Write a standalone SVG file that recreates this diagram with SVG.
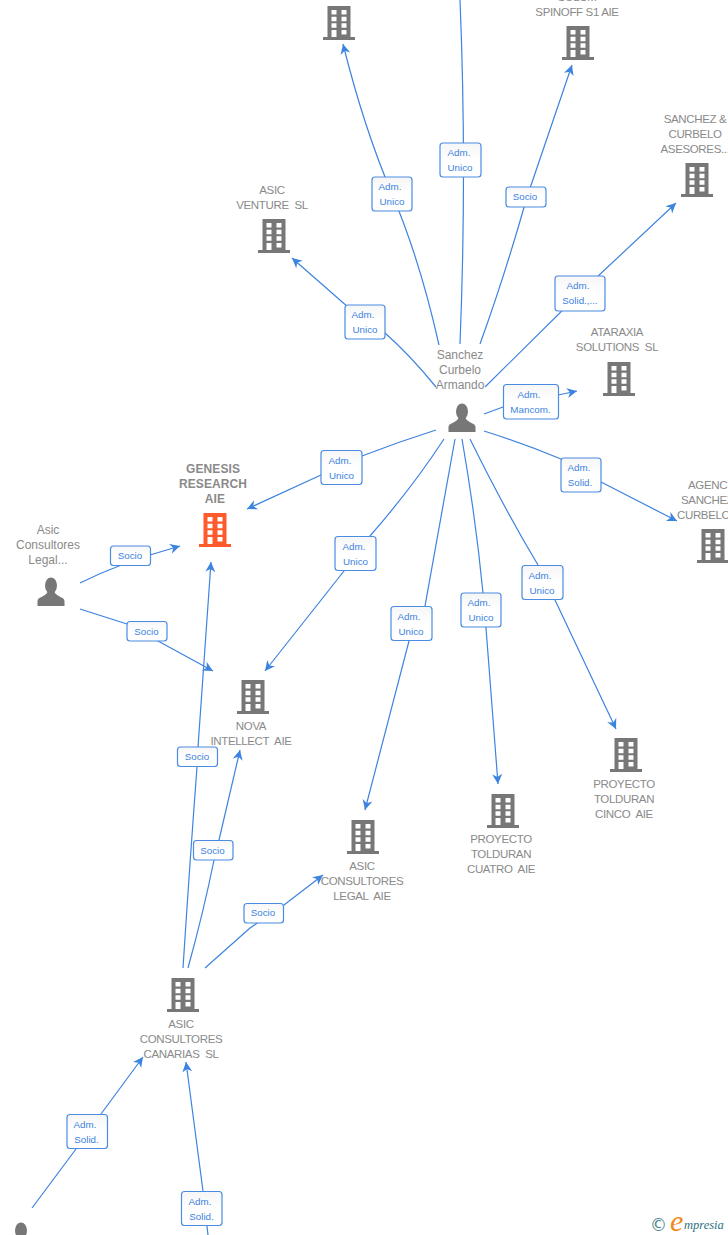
<svg xmlns="http://www.w3.org/2000/svg" width="728" height="1235" viewBox="0 0 728 1235">
<style>
.n{font-family:"Liberation Sans",Arial,sans-serif;font-size:11.5px;letter-spacing:-.35px;fill:#8a8a8a;text-anchor:middle;white-space:pre}
.m{font-size:12px;letter-spacing:0}
.s{text-anchor:start}
.g{font-weight:bold;font-size:12px;letter-spacing:.1px}
.c{fill:none;stroke:#3d83e0;stroke-width:1.2;marker-end:url(#a)}
.b{fill:url(#w);stroke:#4a8ce2;stroke-width:1.2}
.l{font-family:"Liberation Sans",Arial,sans-serif;font-size:9.8px;fill:#3d83e0;text-anchor:middle}
</style>
<defs>
<linearGradient id="w" x1="0" y1="0" x2="0" y2="1"><stop offset="0" stop-color="#f6f6f6"/><stop offset=".5" stop-color="#fff"/></linearGradient>
<marker id="a" markerUnits="userSpaceOnUse" markerWidth="12" markerHeight="12" refX="10" refY="5.500" orient="auto"><path d="M10,5.500 L0,0.500 L3,5.500 L0,10.500Z" fill="#3d83e0"/></marker>
<g id="bld"><path d="M-11.500,0H11.500V31H16V34H-16V31H-11.500Z M-7.500,4V8.500H-2.500V4Z M2.500,4V8.500H7.500V4Z M-7.500,10.700V15.200H-2.500V10.700Z M2.500,10.700V15.200H7.500V10.700Z M-7.500,17.300V21.800H-2.500V17.300Z M2.500,17.300V21.800H7.500V17.300Z M-7.500,24V31H-2.500V24Z M2.500,24V28.500H7.500V24Z" fill-rule="evenodd"/></g>
<g id="per"><ellipse cx="0" cy="7.500" rx="6" ry="8"/><path d="M-13.500,28V23C-13.500,19 -6,19 -3.500,14H3.500C6,19 13.500,19 13.500,23V28Z"/></g>
</defs>
<g id="connectors">
<path class="c" d="M439,345Q420,260 392,194T343,44"/>
<path class="c" d="M460,344Q467,170 460,0" style="marker-end:none"/>
<path class="c" d="M480,344Q505,275 527,197L572,65"/>
<path class="c" d="M485,387L580,293L676,203"/>
<path class="c" d="M436,387Q410,355 385,333L365,322L292,258"/>
<path class="c" d="M484,414L503,407M558,395L577,391"/>
<path class="c" d="M484,431Q525,444 561,459L601,482L677,521"/>
<path class="c" d="M436,430Q398,442 362,456L321,475L247,509"/>
<path class="c" d="M444,439Q412,488 370,536L344,571L265,671"/>
<path class="c" d="M455,439L425,606L409,641L365,810"/>
<path class="c" d="M462,439Q476,520 483,593L486,628L498,784"/>
<path class="c" d="M470,439Q505,510 538,565L555,600L616,729"/>
<path class="c" d="M80,583Q100,573 119,566L150,555L180,546"/>
<path class="c" d="M80,609L127,624L158,641L213,671"/>
<path class="c" d="M183,968Q190,860 197,767L198,747L211,562"/>
<path class="c" d="M188,968Q204,910 214,860L219,840L240,750"/>
<path class="c" d="M205,968L250,928L284,905L323,875"/>
<path class="c" d="M32,1208L76,1149L101,1114L143,1057"/>
<path class="c" d="M208,1235L203,1191L186,1062"/>
</g>
<g id="n1" fill="#777"><use href="#bld" x="339" y="6"/></g>
<g id="n2" fill="#777"><text class="n" x="577" y="1">SOLUM</text><text class="n" x="577" y="16">SPINOFF S1 AIE</text><use href="#bld" x="578" y="26"/></g>
<g id="n3" fill="#777"><text class="n" x="695" y="123">SANCHEZ &amp;</text><text class="n" x="695" y="138">CURBELO</text><text class="n" x="695" y="153">ASESORES...</text><use href="#bld" x="697" y="163"/></g>
<g id="n4" fill="#777"><text class="n" x="272" y="194">ASIC</text><text class="n" x="272" y="209">VENTURE  SL</text><use href="#bld" x="274" y="219"/></g>
<g id="n5" fill="#777"><text class="n" x="617" y="336">ATARAXIA</text><text class="n" x="617" y="351">SOLUTIONS  SL</text><use href="#bld" x="619" y="362"/></g>
<g id="n6" fill="#777"><text class="n s" x="688" y="489">AGENCIA</text><text class="n s" x="681" y="504">SANCHEZ</text><text class="n s" x="677" y="519">CURBELO</text><use href="#bld" x="713" y="529"/></g>
<g id="n7" fill="#ff5a2b"><text class="n g" x="213" y="473">GENESIS</text><text class="n g" x="213" y="488">RESEARCH</text><text class="n g" x="215" y="503">AIE</text><use href="#bld" x="215" y="513"/></g>
<g id="n8" fill="#777"><use href="#bld" x="253" y="680"/><text class="n" x="251" y="730">NOVA</text><text class="n" x="251" y="745">INTELLECT  AIE</text></g>
<g id="n9" fill="#777"><use href="#bld" x="363" y="820"/><text class="n" x="362" y="870">ASIC</text><text class="n" x="362" y="885">CONSULTORES</text><text class="n" x="362" y="900">LEGAL  AIE</text></g>
<g id="n10" fill="#777"><use href="#bld" x="503" y="794"/><text class="n" x="501" y="843">PROYECTO</text><text class="n" x="501" y="858">TOLDURAN</text><text class="n" x="501" y="873">CUATRO  AIE</text></g>
<g id="n11" fill="#777"><use href="#bld" x="626" y="738"/><text class="n" x="624" y="788">PROYECTO</text><text class="n" x="624" y="803">TOLDURAN</text><text class="n" x="624" y="818">CINCO  AIE</text></g>
<g id="n12" fill="#777"><use href="#bld" x="183" y="978"/><text class="n" x="181" y="1028">ASIC</text><text class="n" x="181" y="1043">CONSULTORES</text><text class="n" x="181" y="1058">CANARIAS  SL</text></g>
<g id="p1" fill="#777"><text class="n m" x="460" y="359">Sanchez</text><text class="n m" x="460" y="374">Curbelo</text><text class="n m" x="460" y="389">Armando</text><use href="#per" x="462" y="404"/></g>
<g id="p2" fill="#777"><text class="n m" x="48" y="534">Asic</text><text class="n m" x="48" y="549">Consultores</text><text class="n m" x="48" y="564">Legal...</text><use href="#per" x="51" y="578"/></g>
<g id="p3" fill="#777"><use href="#per" x="21" y="1223"/></g>
<g id="labels">
<g><rect class="b" x="372" y="177" width="40" height="34" rx="3"/><text class="l" x="390" y="190">Adm.</text><text class="l" x="392" y="205">Unico</text></g>
<g><rect class="b" x="440" y="143" width="41" height="34" rx="3"/><text class="l" x="459" y="156">Adm.</text><text class="l" x="460" y="171">Unico</text></g>
<g><rect class="b" x="506" y="187" width="40" height="20" rx="3"/><text class="l" x="525" y="200">Socio</text></g>
<g><rect class="b" x="345" y="305" width="40" height="34" rx="3"/><text class="l" x="363" y="318">Adm.</text><text class="l" x="365" y="333">Unico</text></g>
<g><rect class="b" x="555" y="276" width="50" height="35" rx="3"/><text class="l" x="578" y="289">Adm.</text><text class="l" x="580" y="304">Solid.,...</text></g>
<g><rect class="b" x="503.500" y="384.500" width="55" height="34.500" rx="3"/><text class="l" x="529" y="398">Adm.</text><text class="l" x="530.500" y="413">Mancom.</text></g>
<g><rect class="b" x="561" y="458" width="40" height="34" rx="3"/><text class="l" x="579" y="471">Adm.</text><text class="l" x="580" y="486">Solid.</text></g>
<g><rect class="b" x="321" y="450.500" width="41" height="34" rx="3"/><text class="l" x="340" y="464">Adm.</text><text class="l" x="341.500" y="479">Unico</text></g>
<g><rect class="b" x="335" y="536.500" width="41" height="34" rx="3"/><text class="l" x="354" y="550">Adm.</text><text class="l" x="355.500" y="565">Unico</text></g>
<g><rect class="b" x="391" y="606.500" width="41" height="34" rx="3"/><text class="l" x="409" y="620">Adm.</text><text class="l" x="411" y="635">Unico</text></g>
<g><rect class="b" x="461" y="593" width="40" height="34" rx="3"/><text class="l" x="479" y="606">Adm.</text><text class="l" x="481" y="621">Unico</text></g>
<g><rect class="b" x="522" y="565.500" width="41" height="34" rx="3"/><text class="l" x="540" y="579">Adm.</text><text class="l" x="542" y="594">Unico</text></g>
<g><rect class="b" x="110.500" y="546" width="40" height="19.500" rx="3"/><text class="l" x="130" y="559">Socio</text></g>
<g><rect class="b" x="127" y="621.500" width="40" height="19.500" rx="3"/><text class="l" x="146.500" y="635">Socio</text></g>
<g><rect class="b" x="177.500" y="747" width="40" height="19.500" rx="3"/><text class="l" x="197" y="760">Socio</text></g>
<g><rect class="b" x="193.500" y="840.500" width="39.500" height="19.500" rx="3"/><text class="l" x="212.500" y="854">Socio</text></g>
<g><rect class="b" x="244" y="903.500" width="39.500" height="19.500" rx="3"/><text class="l" x="263" y="916">Socio</text></g>
<g><rect class="b" x="67" y="1114.500" width="40.500" height="34" rx="3"/><text class="l" x="85" y="1128">Adm.</text><text class="l" x="86.500" y="1143">Solid.</text></g>
<g><rect class="b" x="181.500" y="1191.500" width="40.500" height="34" rx="3"/><text class="l" x="200" y="1205">Adm.</text><text class="l" x="201.500" y="1220">Solid.</text></g>
</g>
<g id="logo">
<text x="650" y="1231" font-family="'DejaVu Sans',sans-serif" font-size="17" fill="#4d8291">©</text>
<text x="670" y="1231" font-family="'Liberation Serif',serif" font-style="italic" font-size="30" fill="#f28a1e">e</text>
<text x="684" y="1229" font-family="'Liberation Serif',serif" font-style="italic" font-size="12.500" fill="#2d6f80">mpresia</text>
</g>
</svg>
